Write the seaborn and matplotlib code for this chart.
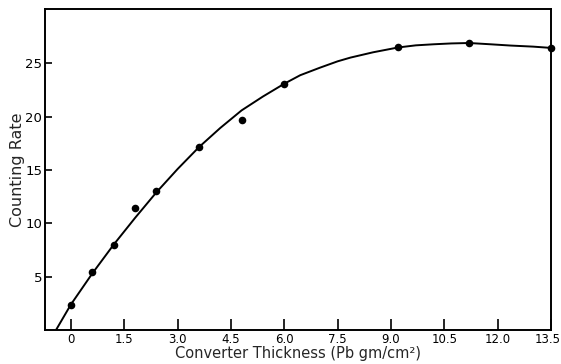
import matplotlib
matplotlib.use("Agg")
import matplotlib.pyplot as plt
import matplotlib.transforms as mtransforms
import seaborn as sns
import pandas as pd

# measured data points
thickness = [0.0, 0.6, 1.2, 1.8, 2.4, 3.6, 4.8, 6.0, 9.2, 11.2, 13.5]
rate = [2.3, 5.45, 7.95, 11.45, 13.05, 17.2, 19.7, 23.1, 26.5, 26.95, 26.45]

# smooth curve
curve_x = [-0.42, 0.0, 0.6, 1.2, 1.8, 2.4, 3.0, 3.6, 4.2, 4.8, 5.4, 6.0, 6.45,
           7.0, 7.5, 7.86, 8.5, 9.2, 9.7, 10.2, 10.7, 11.2, 11.8, 12.37, 13.0, 13.5]
curve_y = [0.0, 2.4, 5.3, 8.0, 10.5, 12.9, 15.1, 17.15, 18.95, 20.6, 21.9, 23.1,
           23.9, 24.6, 25.2, 25.55, 26.05, 26.5, 26.7, 26.8, 26.88, 26.92, 26.8,
           26.68, 26.58, 26.46]

xticks = [0, 1.5, 3.0, 4.5, 6.0, 7.5, 9.0, 10.5, 12.0, 13.5]
xticklabels = ["0", "1.5", "3.0", "4.5", "6.0", "7.5", "9.0", "10.5", "12.0", "13.5"]
yticks = [5, 10, 15, 20, 25]

sns.set_style("ticks")
plt.rcParams["font.family"] = ["DejaVu Sans"]

pts = pd.DataFrame({"x": thickness, "y": rate})
crv = pd.DataFrame({"x": curve_x, "y": curve_y})

fig = plt.figure(figsize=(5.61, 3.64), dpi=100)
ax = fig.add_axes([0.0802, 0.0934, 0.9018, 0.8816])

sns.lineplot(data=crv, x="x", y="y", sort=False, color="black", linewidth=1.4,
             ax=ax, estimator=None)
sns.scatterplot(data=pts, x="x", y="y", color="black", s=30, edgecolor="black",
                linewidth=0, ax=ax, clip_on=False, zorder=5)

ax.set_xlim(-0.73, 13.5)
ax.set_ylim(0, 30.1)
ax.set_xticks(xticks)
ax.set_xticklabels(xticklabels)
ax.set_yticks(yticks)
ax.tick_params(axis="x", direction="in", length=8, width=1.2, labelsize=8.5,
               pad=2, colors="black")
ax.tick_params(axis="y", direction="in", length=5, width=1.2, labelsize=9.5,
               pad=2, colors="black")
for s in ax.spines.values():
    s.set_linewidth(1.4)
    s.set_color("black")
    s.set_visible(True)

# nudge the last tick label so it stays inside the figure
last = ax.get_xticklabels()[-1]
last.set_transform(last.get_transform() +
                   mtransforms.ScaledTranslation(-2 / 72, 0, fig.dpi_scale_trans))

ax.set_xlabel("Converter Thickness (Pb gm/cm²)", fontsize=10.5, labelpad=0)
ax.set_ylabel("Counting Rate", fontsize=11.5, labelpad=0)

fig.savefig("out.png", dpi=100)
